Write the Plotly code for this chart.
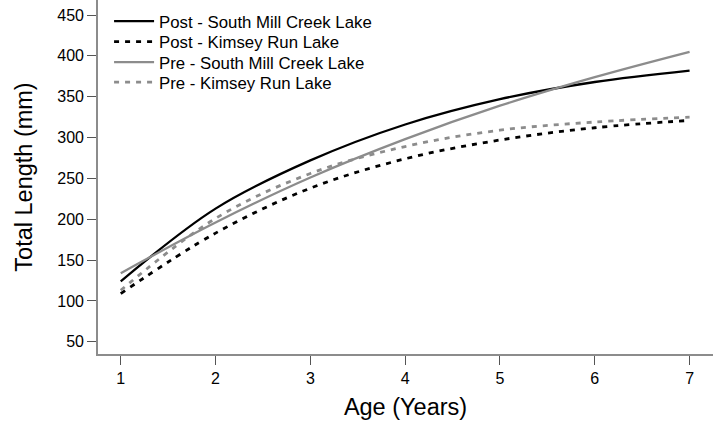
import plotly.graph_objects as go

ages = [1, 2, 3, 4, 5, 6, 7]
post_smc = [124, 213, 272, 316, 347, 368, 382]
post_krl = [109, 183, 238, 274, 297, 312, 321]
pre_smc = [134, 196, 251, 298, 339, 374, 405]
pre_krl = [113, 201, 256, 289, 309, 319, 325]

x_ticks = [1, 2, 3, 4, 5, 6, 7]
y_ticks = [50, 100, 150, 200, 250, 300, 350, 400, 450]

FONT = "Arial, Liberation Sans, sans-serif"
GRAY = "#8c8c8c"
H = 424

fig = go.Figure()
series = [
    ("Post - South Mill Creek Lake", post_smc, "black", "solid", 2.3),
    ("Post - Kimsey Run Lake", post_krl, "black", "5px,6px", 2.8),
    ("Pre - South Mill Creek Lake", pre_smc, GRAY, "solid", 2.3),
    ("Pre - Kimsey Run Lake", pre_krl, GRAY, "5px,6px", 2.8),
]
legend_ids = ["legend", "legend2", "legend3", "legend4"]
for (name, vals, color, dash, w), lg in zip(series, legend_ids):
    fig.add_trace(go.Scatter(
        x=ages, y=vals, name=name, mode="lines", legend=lg,
        line=dict(color=color, dash=dash, width=w, shape="spline", smoothing=1.0),
    ))

row_centers = [21.7, 42.3, 62.7, 82.7]
legend_layout = {}
for lg, yc in zip(legend_ids, row_centers):
    legend_layout[lg] = dict(
        x=0.018, y=1 - (yc - 18) / (H - 70), xanchor="left", yanchor="top",
        font=dict(size=16.8, family=FONT, color="black"),
        bgcolor="rgba(0,0,0,0)", itemwidth=40,
    )

fig.update_layout(
    width=721, height=H,
    margin=dict(l=98, r=8, t=0, b=70),
    paper_bgcolor="white", plot_bgcolor="white",
    font=dict(family=FONT, color="black", size=16),
    showlegend=True,
    xaxis=dict(
        range=[0.76, 7.247], tickvals=x_ticks, ticks="outside", ticklen=9,
        tickcolor="#555555", tickwidth=1, showline=True, linecolor=GRAY,
        linewidth=1.6, showgrid=False, zeroline=False,
        tickfont=dict(size=16, family=FONT, color="black"),
        title=dict(text="Age (Years)", font=dict(size=23.5, family=FONT, color="black"), standoff=13),
    ),
    yaxis=dict(
        range=[35, 468.4], tickvals=y_ticks, ticks="outside", ticklen=9,
        tickcolor="#555555", tickwidth=1, showline=True, linecolor=GRAY,
        linewidth=1.6, showgrid=False, zeroline=False,
        tickfont=dict(size=16, family=FONT, color="black"),
        title=dict(text="Total Length (mm)", font=dict(size=23.5, family=FONT, color="black"), standoff=18),
    ),
    **legend_layout,
)

fig.write_html("out.html")
